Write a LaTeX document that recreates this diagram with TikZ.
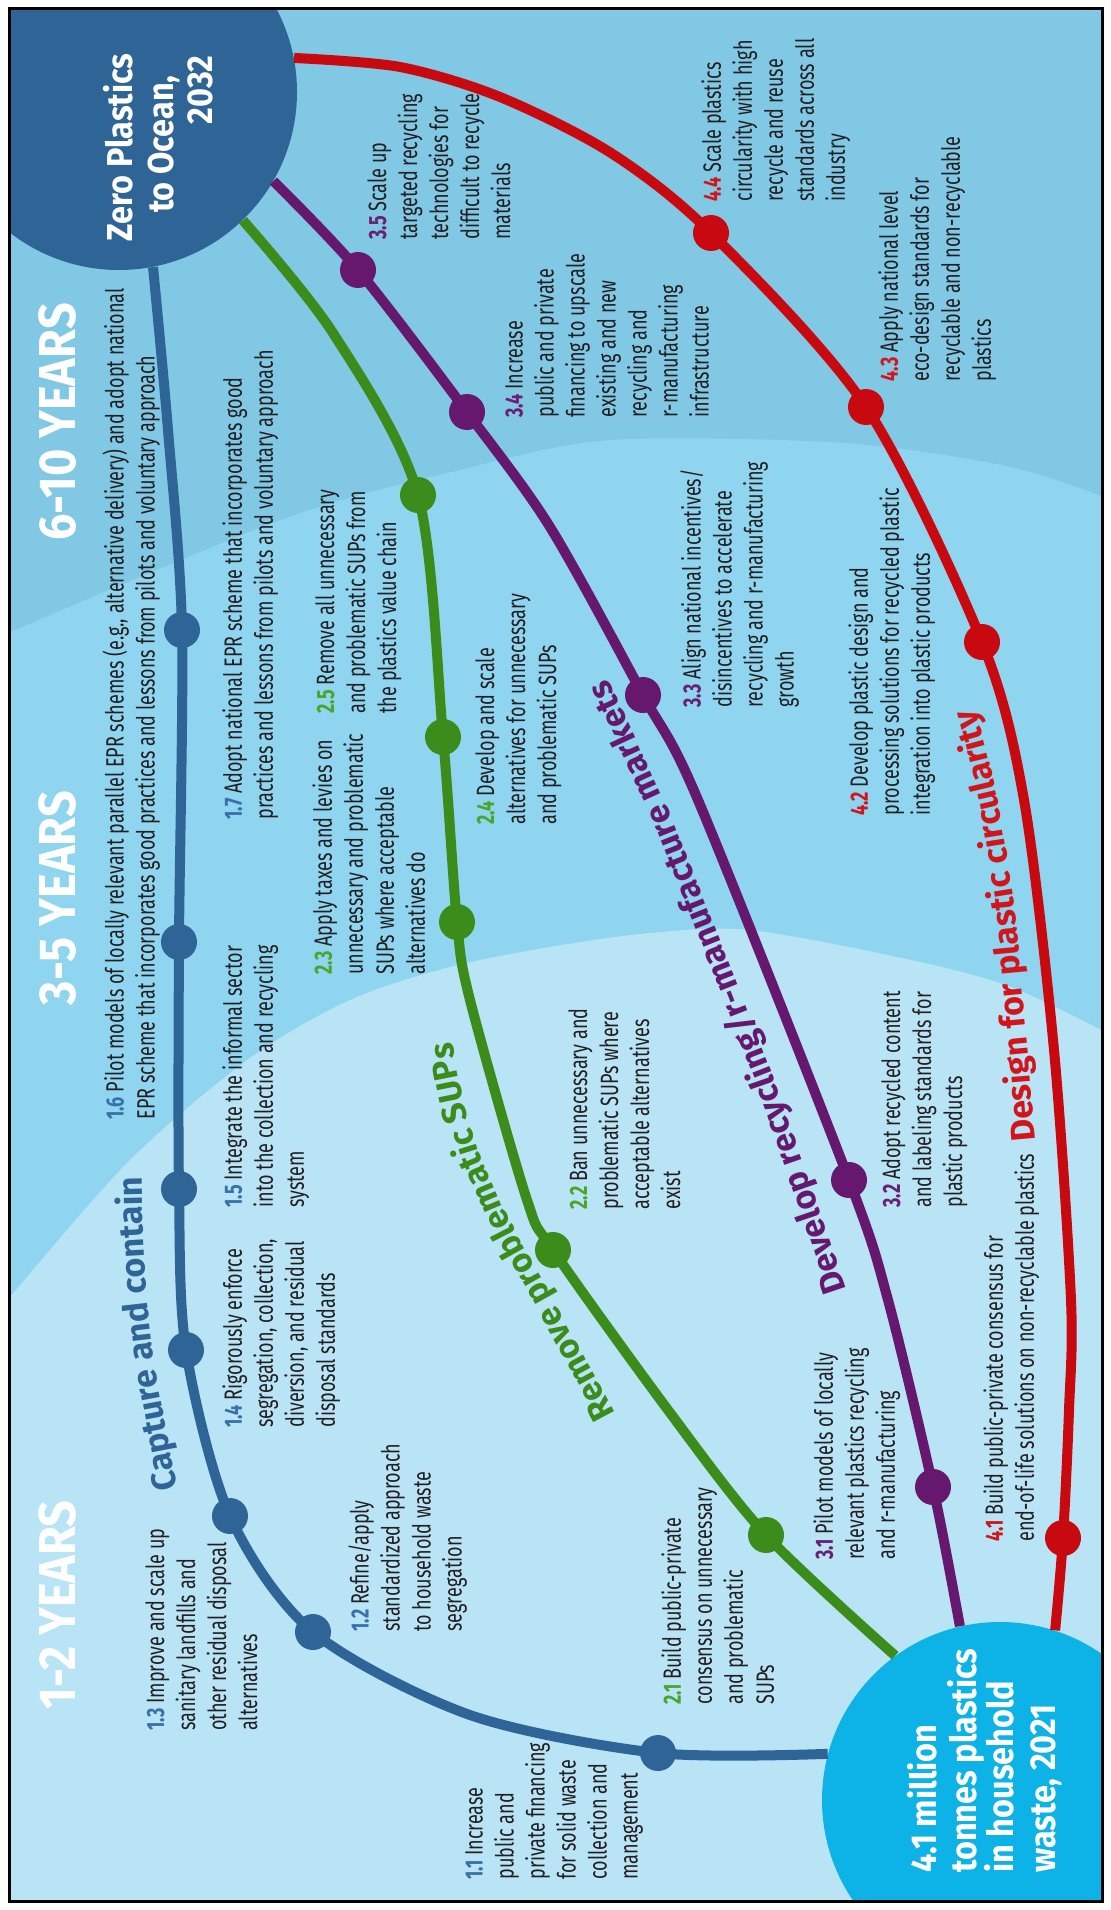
\documentclass[tikz,border=0pt]{standalone}
\usepackage{fontspec}
\setmainfont[FakeStretch=0.72]{Fira Sans}
\newfontfamily\circf[FakeStretch=0.9]{Fira Sans}
\newfontfamily\lblf{Fira Sans}
\usetikzlibrary{decorations.text}
\definecolor{zdark}{HTML}{80C8E4}
\definecolor{zmid}{HTML}{8FD5F0}
\definecolor{zlight}{HTML}{B9E4F6}
\definecolor{cblue}{HTML}{2F6496}
\definecolor{cgreen}{HTML}{3B8C1A}
\definecolor{cpurple}{HTML}{66186E}
\definecolor{cred}{HTML}{C80A10}
\definecolor{ccyan}{HTML}{0DB3E6}
\definecolor{tblue}{HTML}{3A70AA}
\definecolor{tgreen}{HTML}{4BA52A}
\definecolor{tpurple}{HTML}{6B1F73}
\definecolor{tred}{HTML}{D3151B}
\definecolor{txt}{HTML}{231F20}
\newcommand\numlab[2]{{\bfseries\color{#1}#2}}
\newcommand\labfont{\lblf\bfseries\fontsize{17}{20}\selectfont}
\begin{document}
\begin{tikzpicture}[x=0.5pt,y=-0.5pt,
  dot/.style={circle,inner sep=0pt,minimum size=18pt},
  tb/.style={rotate=90,anchor=north west,align=left,inner sep=0pt,text=txt,font=\fontsize{12.5}{15.5}\selectfont},
  ct/.style={rotate=90,inner sep=0pt,text=white,font=\circf\bfseries\fontsize{18}{21}\selectfont},
  yr/.style={rotate=90,inner sep=0pt,text=white,font=\circf\bfseries\fontsize{26}{31}\selectfont},
  ln/.style={line width=5pt}]
\useasboundingbox (0,0) rectangle (1111,1910);
\fill[white] (0,0) rectangle (1111,1910);
\begin{scope}
\clip (10,10) rectangle (1102,1900);
% zones
\fill[zdark] (0,0) rectangle (1111,1910);
\fill[zmid] plot[smooth] coordinates {(0,637) (10,632) (286,518) (460,470) (611,440) (844,443) (1011,467) (1111,500)} -- (1111,1910) -- (0,1910) -- cycle;
\fill[zlight] plot[smooth] coordinates {(0,1310) (10,1297) (130,1160) (250,1058) (350,1000) (450,967) (550,947) (650,933) (750,930) (911,960) (1011,987) (1111,1035)} -- (1111,1910) -- (0,1910) -- cycle;
% year labels
\node[yr] (y12) at (57,1605) {1-2 YEARS};
\node[yr] (y35) at (57,898) {3-5 YEARS};
\node[yr] (y610) at (57,422) {6-10 YEARS};
% circles
\node[circle,fill=cblue,minimum size=178pt,inner sep=0pt] (goal) at (119,92) {};
\node[circle,fill=ccyan,minimum size=178pt,inner sep=0pt] (start) at (1000,1800) {};
% dot positions
\coordinate (p11) at (658,1753);
\coordinate (p12) at (313,1632);
\coordinate (p13) at (230,1516);
\coordinate (p14) at (186,1350);
\coordinate (p15) at (179,1189);
\coordinate (p16) at (179,942);
\coordinate (p17) at (182,630);
\coordinate (p21) at (766,1535);
\coordinate (p22) at (553,1250);
\coordinate (p23) at (457,922);
\coordinate (p24) at (443,737);
\coordinate (p25) at (418,495);
\coordinate (p31) at (933,1487);
\coordinate (p32) at (849,1180);
\coordinate (p33) at (643,695);
\coordinate (p34) at (467,412);
\coordinate (p35) at (358,270);
\coordinate (p41) at (1063,1538);
\coordinate (p42) at (982,642);
\coordinate (p43) at (866,407);
\coordinate (p44) at (711,233);
% lines
\draw[ln,cblue] plot[smooth] coordinates {(goal.-79) (168,430) (p17) (p16) (p15) (p14) (p13) (p12) (470,1715) (p11) (start.165)};
\draw[ln,cgreen] plot[smooth] coordinates {(goal.-46) (333,333) (p25) (p24) (p23) (470,1000) (527,1200) (p22) (668,1410) (p21) (start.126)};
\draw[ln,cpurple] plot[smooth] coordinates {(goal.-30) (p35) (p34) (550,527) (p33) (698,800) (p32) (888,1300) (p31) (start.103)};
\draw[ln,cred] plot[smooth] coordinates {(goal.11) (400,67) (500,97) (611,153) (p44) (p43) (p42) (1024,800) (1054,1050) (1071,1300) (1069,1410) (p41) (start.72)};
% dots
\foreach \n in {11,12,13,14,15,16,17} {\node[dot,fill=cblue] (d\n) at (p\n) {};}
\foreach \n in {21,22,23,24,25} {\node[dot,fill=cgreen] (d\n) at (p\n) {};}
\foreach \n in {31,32,33,34,35} {\node[dot,fill=cpurple] (d\n) at (p\n) {};}
\foreach \n in {41,42,43,44} {\node[dot,fill=cred] (d\n) at (p\n) {};}
% circle texts
\node[ct,anchor=base east] (g1) at (132,53) {Zero Plastics};
\node[ct,anchor=base east] (g2) at (173,75) {to Ocean,};
\node[ct,anchor=base east] (g3) at (212,55) {2032};
\node[ct,anchor=base west] (s1) at (936,1873) {4.1 million};
\node[ct,anchor=base west] (s2) at (976,1873) {tonnes plastics};
\node[ct,anchor=base west] (s3) at (1013,1873) {in household};
\node[ct,anchor=base west] (s4) at (1055,1873) {waste, 2021};
% text blocks
\node[tb] (t11) at (465,1880) {\numlab{tblue}{1.1} Increase\\public and\\private financing\\for solid waste\\collection and\\management};
\node[tb] (t12) at (348,1632) {\numlab{tblue}{1.2} Refine/apply\\standardized approach\\to household waste\\segregation};
\node[tb] (t13) at (145,1731) {\numlab{tblue}{1.3} Improve and scale up\\sanitary landfills and\\other residual disposal\\alternatives};
\node[tb] (t14) at (222,1428) {\numlab{tblue}{1.4} Rigorously enforce\\segregation, collection,\\diversion, and residual\\disposal standards};
\node[tb] (t15) at (222,1208) {\numlab{tblue}{1.5} Integrate the informal sector\\into the collection and recycling\\system};
\node[tb] (t16) at (102,1120) {\numlab{tblue}{1.6} Pilot models of locally relevant parallel EPR schemes (e.g., alternative delivery)\ and adopt national\\EPR scheme that incorporates good practices and lessons from pilots and voluntary approach};
\node[tb] (t17) at (222,820) {\numlab{tblue}{1.7} Adopt national EPR scheme that incorporates good\\practices and lessons from pilots and voluntary approach};
\node[tb] (t21) at (661,1705) {\numlab{tgreen}{2.1} Build public-private\\consensus on unnecessary\\and problematic\\SUPs};
\node[tb] (t22) at (568,1210) {\numlab{tgreen}{2.2} Ban unnecessary and\\problematic SUPs where\\acceptable alternatives\\exist};
\node[tb] (t23) at (312,975) {\numlab{tgreen}{2.3} Apply taxes and levies on\\unnecessary and problematic\\SUPs where acceptable\\alternatives do};
\node[tb] (t24) at (475,825) {\numlab{tgreen}{2.4} Develop and scale\\alternatives for unnecessary\\and problematic SUPs};
\node[tb] (t25) at (315,714) {\numlab{tgreen}{2.5} Remove all unnecessary\\and problematic SUPs from\\the plastics value chain};
\node[tb] (t31) at (813,1560) {\numlab{tpurple}{3.1} Pilot models of locally\\relevant plastics recycling\\and r-manufacturing};
\node[tb] (t32) at (881,1208) {\numlab{tpurple}{3.2} Adopt recycled content\\and labeling standards for\\plastic products};
\node[tb] (t33) at (680,708) {\numlab{tpurple}{3.3} Align national incentives/\\disincentives to accelerate\\recycling and r-manufacturing\\growth};
\node[tb] (t34) at (505,418) {\numlab{tpurple}{3.4} Increase\\public and private\\financing to upscale\\existing and new\\recycling and\\r-manufacturing\\infrastructure};
\node[tb] (t35) at (367,240) {\numlab{tpurple}{3.5} Scale up\\targeted recycling\\technologies for\\difficult to recycle\\materials};
\node[tb] (t41) at (983,1542) {\numlab{tred}{4.1} Build public-private consensus for\\end-of-life solutions on non-recyclable plastics};
\node[tb] (t42) at (848,816) {\numlab{tred}{4.2} Develop plastic design and\\processing solutions for recycled plastic\\integration into plastic products};
\node[tb] (t43) at (878,382) {\numlab{tred}{4.3} Apply national level\\eco-design standards for\\recyclable and non-recyclable\\plastics};
\node[tb] (t44) at (701,202) {\numlab{tred}{4.4} Scale plastics\\circularity with high\\recycle and reuse\\standards across all\\industry};
% category labels along the lines
\path[decorate,decoration={text along path,text align=center,text={|\labfont\color{cblue}|Capture and contain}}]
  (184,1525) -- (170,1450) -- (155,1370) -- (147,1300) -- (143,1230) -- (141,1140);
\path[decorate,decoration={text along path,text align=center,text={|\labfont\color{cgreen}|Remove problematic SUPs}}]
  (640,1460) -- (608,1400) -- (575,1340) -- (548,1290) -- (520,1240) -- (497,1195) -- (478,1150) -- (464,1105) -- (455,1060) -- (450,990);
\path[decorate,decoration={text along path,text align=center,text={|\labfont\color{cpurple}|Develop recycling/r-manufacture markets}}]
  (860,1330) -- (816,1200) -- (771,1070) -- (718,935) -- (664,800) -- (627,720) -- (590,640);
\path[decorate,decoration={text along path,text align=center,text={|\labfont\color{tred}|Design for plastic circularity}}]
  (1037,1160) -- (1033,1115) -- (1028,1050) -- (1021,975) -- (1014,900) -- (1006,850) -- (998,800) -- (985,745) -- (970,690);
\end{scope}
\draw[line width=1.5pt] (9,9) rectangle (1102,1901);
\end{tikzpicture}
\end{document}
